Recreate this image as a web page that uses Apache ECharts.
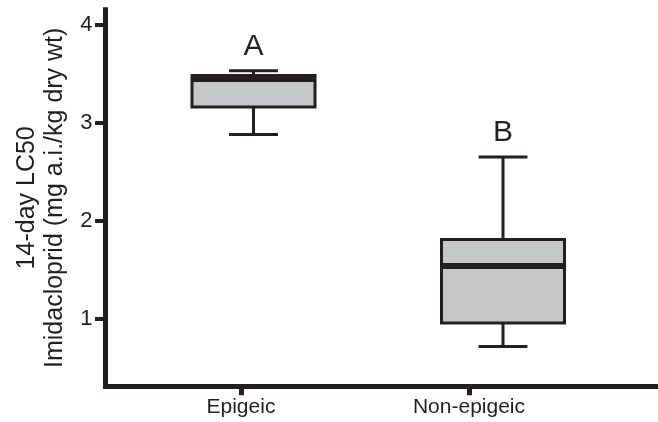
<!DOCTYPE html>
<html>
<head>
<meta charset="utf-8">
<script src="https://cdn.jsdelivr.net/npm/echarts@6/dist/echarts.min.js"></script>
<style>
  html, body { margin: 0; padding: 0; background: #fff; }
  #chart { width: 658px; height: 422px; }
</style>
</head>
<body>
<div id="chart"></div>
<script>
// Groups and their box-and-whisker summaries (mg a.i./kg dry wt)
const groups = ['Epigeic', 'Non-epigeic'];
const whiskerLow = [2.88, 0.72];
const quartile1 = [3.16, 0.96];
const median = [3.445, 1.54];
const quartile3 = [3.48, 1.81];
const whiskerHigh = [3.53, 2.65];
const groupLetters = ['A', 'B'];
const yTicks = [1, 2, 3, 4];

const INK = '#231f20';
const FILL = '#c6c7c9';
const FONT = '"Liberation Sans", Arial, Helvetica, sans-serif';

const boxData = groups.map((g, i) => [i, whiskerLow[i], quartile1[i], median[i], quartile3[i], whiskerHigh[i]]);

const chart = echarts.init(document.getElementById('chart'), null, { renderer: 'canvas' });

chart.setOption({
  animation: false,
  backgroundColor: '#ffffff',
  grid: { left: 105.5, right: 0, top: 9.8, bottom: 36.2, containLabel: false },
  xAxis: [
    {
      // visible axis carrying the group names
      type: 'value',
      min: -0.594,
      max: 1.829,
      splitLine: { show: false },
      axisLine: { show: true, onZero: false, lineStyle: { color: INK, width: 5, cap: 'square' } },
      axisTick: { show: true, customValues: groups.map((g, i) => i), length: 9.5, lineStyle: { color: INK, width: 5 } },
      axisLabel: {
        customValues: groups.map((g, i) => i),
        formatter: v => groups[Math.round(v)] || '',
        color: INK, fontFamily: FONT, fontSize: 21, margin: 11
      }
    },
    {
      // hidden axis placing the boxes
      type: 'value',
      min: -0.5932,
      max: 1.6212,
      show: false,
      splitLine: { show: false }
    }
  ],
  yAxis: {
    type: 'value',
    min: 0.32,
    max: 4.15,
    splitLine: { show: false },
    axisLine: { show: true, onZero: false, lineStyle: { color: INK, width: 5, cap: 'square' } },
    axisTick: { show: true, customValues: yTicks, length: 10.5, lineStyle: { color: INK, width: 4 } },
    axisLabel: { customValues: yTicks, color: INK, fontFamily: FONT, fontSize: 22, margin: 13 },
    name: '14-day LC50\nImidacloprid (mg a.i./kg dry wt)',
    nameLocation: 'middle',
    nameRotate: 90,
    nameGap: 30,
    nameTextStyle: { color: INK, fontFamily: FONT, fontSize: 25, lineHeight: 28 }
  },
  series: [{
    type: 'custom',
    xAxisIndex: 1,
    yAxisIndex: 0,
    clip: false,
    data: boxData,
    renderItem: function (params, api) {
      const i = api.value(0);
      const band = api.size([1, 0])[0];
      const lo = api.coord([i, api.value(1)]);
      const p1 = api.coord([i, api.value(2)]);
      const pm = api.coord([i, api.value(3)]);
      const p3 = api.coord([i, api.value(4)]);
      const hi = api.coord([i, api.value(5)]);
      const cx = lo[0];
      const half = band * 0.2465;
      const capHalf = band * 0.098;
      const line = (x1, y1, x2, y2, w) => ({
        type: 'line',
        shape: { x1: x1, y1: y1, x2: x2, y2: y2 },
        style: { stroke: INK, lineWidth: w, lineCap: 'butt' }
      });
      return {
        type: 'group',
        children: [
          line(cx, hi[1], cx, p3[1], 3),
          line(cx, p1[1], cx, lo[1], 3),
          line(cx - capHalf, hi[1], cx + capHalf, hi[1], 3),
          line(cx - capHalf, lo[1], cx + capHalf, lo[1], 3),
          {
            type: 'rect',
            shape: { x: cx - half, y: p3[1], width: half * 2, height: p1[1] - p3[1] },
            style: { fill: FILL, stroke: INK, lineWidth: 3 }
          },
          line(cx - half, pm[1], cx + half, pm[1], 6),
          {
            type: 'text',
            x: cx,
            y: hi[1] - 9,
            style: {
              text: groupLetters[i],
              fill: INK,
              font: '30px ' + FONT,
              align: 'center',
              verticalAlign: 'bottom'
            }
          }
        ]
      };
    }
  }]
});
</script>
</body>
</html>
